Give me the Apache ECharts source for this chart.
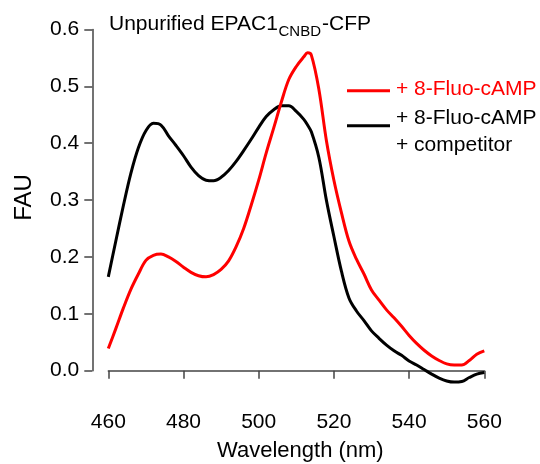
<!DOCTYPE html>
<html><head><meta charset="utf-8">
<script src="https://cdn.jsdelivr.net/npm/echarts@6/dist/echarts.min.js"></script>
<style>html,body{margin:0;padding:0;background:#fff}#c{width:540px;height:464px}</style>
</head><body><div id="c"></div>
<script>
const wavelength = [460,462,464,466,468,470,472,474,476,478,480,482,484,486,488,490,492,494,496,498,500,502,504,506,508,510,512,513,514,516,518,520,522,524,526,528,530,532,534,536,538,540,542,544,546,548,550,552,554,556,558,560];
const fluoCAMP = [0.039,0.074,0.11,0.143,0.170,0.194,0.203,0.205,0.200,0.192,0.182,0.173,0.167,0.165,0.169,0.178,0.193,0.218,0.250,0.291,0.335,0.383,0.427,0.472,0.512,0.535,0.552,0.559,0.555,0.495,0.405,0.335,0.278,0.228,0.196,0.170,0.142,0.124,0.107,0.093,0.078,0.062,0.048,0.036,0.026,0.018,0.012,0.010,0.010,0.018,0.029,0.035];
const withCompetitor = [0.165,0.228,0.29,0.347,0.392,0.422,0.435,0.432,0.413,0.396,0.378,0.358,0.343,0.335,0.334,0.340,0.352,0.368,0.387,0.407,0.428,0.447,0.459,0.466,0.466,0.456,0.442,0.432,0.42,0.375,0.30,0.236,0.175,0.128,0.105,0.088,0.070,0.057,0.045,0.035,0.027,0.017,0.010,0.002,-0.006,-0.013,-0.018,-0.020,-0.019,-0.012,-0.006,-0.003];
const xTicks = [460,480,500,520,540,560];
const yTicks = [0.0,0.1,0.2,0.3,0.4,0.5,0.6];
const titleMain = 'Unpurified EPAC1', titleSub = 'CNBD', titleEnd = '-CFP';
const legendRed = '+ 8-Fluo-cAMP';
const legendBlack = ['+ 8-Fluo-cAMP', '+ competitor'];
const xName = 'Wavelength (nm)', yName = 'FAU';

const FONT = 'Liberation Sans, Arial, sans-serif';
const chart = echarts.init(document.getElementById('c'), null, {renderer:'canvas'});
const pairs = (ys) => wavelength.map((w,i)=>[w, ys[i]]);
const axisCol = '#444';
chart.setOption({
  animation:false,
  grid:{left:108.3, right:55.7, top:29.5, bottom:93.3},
  xAxis:{type:'value', min:460, max:560, interval:20, offset:27,
    axisLine:{lineStyle:{color:axisCol,width:1.5}},
    axisTick:{length:8, lineStyle:{color:axisCol,width:1.5}},
    axisLabel:{color:'#000', fontSize:21, fontFamily:FONT, margin:14,
      formatter:(v)=> xTicks.includes(v)? String(v):''},
    splitLine:{show:false}},
  yAxis:{type:'value', min:0, max:0.6, interval:0.1, offset:16,
    axisLine:{show:true, lineStyle:{color:axisCol,width:1.5}},
    axisTick:{show:true, length:8, lineStyle:{color:axisCol,width:1.5}},
    axisLabel:{color:'#000', fontSize:21, fontFamily:FONT, margin:13,
      formatter:(v)=> yTicks.some(t=>Math.abs(t-v)<1e-9)? v.toFixed(1):''},
    splitLine:{show:false}},
  series:[
    {type:'line', data:pairs(withCompetitor), showSymbol:false, symbol:'none', clip:false, smooth:0.35,
     lineStyle:{color:'#000', width:3}},
    {type:'line', data:pairs(fluoCAMP), showSymbol:false, symbol:'none', clip:false, smooth:0.35,
     lineStyle:{color:'#ff0000', width:3}}
  ],
  graphic:[
    {type:'text', left:109, top:14, style:{text:titleMain, font:'21px '+FONT, fill:'#000'}},
    {type:'text', left:278.5, top:24.5, style:{text:titleSub, font:'15px '+FONT, fill:'#000'}},
    {type:'text', left:322, top:14, style:{text:titleEnd, font:'21px '+FONT, fill:'#000'}},
    {type:'line', shape:{x1:347,y1:90.7,x2:390,y2:90.7}, style:{stroke:'#ff0000', lineWidth:3}},
    {type:'line', shape:{x1:347,y1:125.7,x2:390,y2:125.7}, style:{stroke:'#000', lineWidth:3}},
    {type:'text', left:396, top:79, style:{text:legendRed, font:'21px '+FONT, fill:'#ff0000'}},
    {type:'text', left:396, top:108, style:{text:legendBlack[0], font:'21px '+FONT, fill:'#000'}},
    {type:'text', left:396, top:135, style:{text:legendBlack[1], font:'21px '+FONT, fill:'#000'}},
    {type:'text', left:217, top:440, style:{text:xName, font:'22px '+FONT, fill:'#000'}},
    {type:'text', x:24, y:197.5, rotation:Math.PI/2, style:{text:yName, font:'24px '+FONT, fill:'#000', align:'center', verticalAlign:'middle'}}
  ]
});
</script></body></html>
